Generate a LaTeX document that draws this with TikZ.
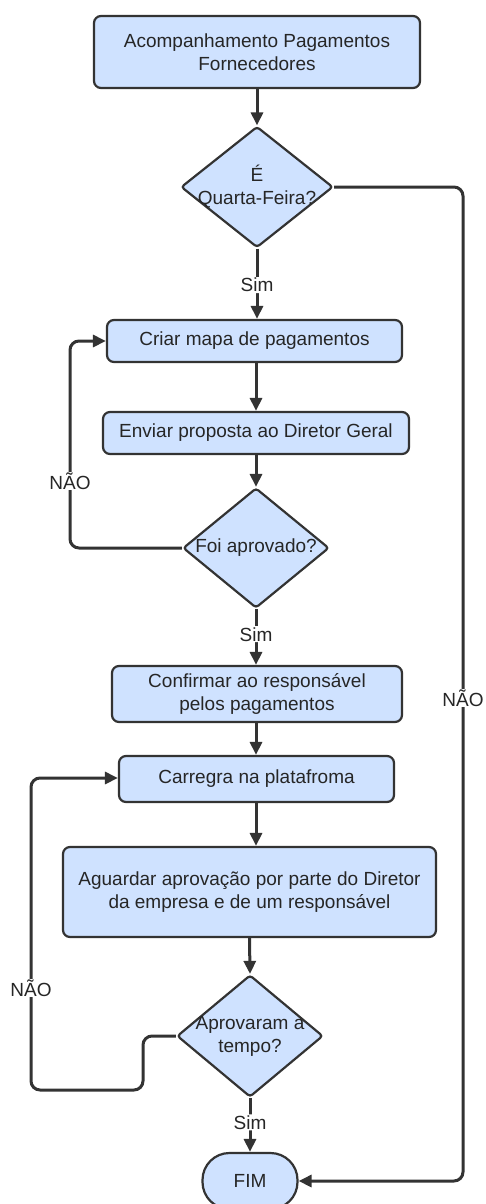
\documentclass[tikz,border=0pt]{standalone}
\usepackage{fontspec}
\setmainfont{Liberation Sans}
\usetikzlibrary{arrows.meta,shapes.geometric}

\definecolor{boxfill}{RGB}{207,226,255}
\definecolor{ink}{RGB}{51,51,51}

\tikzset{
  every node/.style={font=\fontsize{19}{23}\selectfont, text=black!85},
  stepbox/.style={draw=ink, fill=boxfill, line width=2.2pt, rounded corners=7pt,
    inner sep=0pt, align=center},
  decision/.style={draw=ink, fill=boxfill, line width=2.2pt, diamond,
    inner sep=0pt, rounded corners=3pt},
  terminal/.style={draw=ink, fill=boxfill, line width=2.2pt, rounded corners=27pt,
    inner sep=0pt, align=center},
  flow/.style={draw=ink, line width=3pt, rounded corners=9pt,
    -{Triangle[length=13pt,width=12pt]}},
  tag/.style={fill=white, inner sep=1pt, align=center},
}

\begin{document}
\begin{tikzpicture}[x=1pt, y=-1pt]
  \useasboundingbox (0,0) rectangle (485,1204);
  \clip (0,0) rectangle (485,1204);

  % process steps
  \node[stepbox, minimum width=326pt, minimum height=72pt] (start) at (257,52)
    {Acompanhamento Pagamentos\\Fornecedores};
  \node[stepbox, minimum width=295pt, minimum height=42pt] (criar) at (254.5,341)
    {Criar mapa de pagamentos};
  \node[stepbox, minimum width=306pt, minimum height=42pt] (enviar) at (256,433)
    {Enviar proposta ao Diretor Geral};
  \node[stepbox, minimum width=290pt, minimum height=56pt] (confirmar) at (257,694)
    {Confirmar ao responsável\\pelos pagamentos};
  \node[stepbox, minimum width=275pt, minimum height=46pt] (carregra) at (256.5,779)
    {Carregra na platafroma};
  \node[stepbox, minimum width=373pt, minimum height=90pt] (aguardar) at (249.5,892)
    {Aguardar aprovação por parte do Diretor\\da empresa e de um responsável};
  \node[terminal, minimum width=95pt, minimum height=56pt] (fim) at (250,1181) {FIM};

  % decisions
  \node[decision, minimum width=152pt, minimum height=121pt,
    label={[align=center]center:É\\Quarta-Feira?}] (q1) at (257,187) {};
  \node[decision, minimum width=146pt, minimum height=120pt,
    label={[align=center]center:Foi aprovado?}] (q2) at (256,548) {};
  \node[decision, minimum width=146pt, minimum height=122pt,
    label={[align=center]center:Aprovaram a\\tempo?}] (q3) at (250,1036) {};

  % bend points of the return paths
  \coordinate (r1) at (463,187);
  \coordinate (r2) at (463,1181);
  \coordinate (a1) at (70,548);
  \coordinate (a2) at (70,341);
  \coordinate (b1) at (143,1036);
  \coordinate (b2) at (143,1090);
  \coordinate (b3) at (31,1090);
  \coordinate (b4) at (31,778);

  % main flow
  \draw[flow] (start.south) -- (q1.north);
  \draw[flow] (q1.south) -- (q1.south |- criar.north)
    node[tag, pos=0.52] {Sim};
  \draw[flow] (criar.south -| 256,0) -- (enviar.north);
  \draw[flow] (enviar.south) -- (q2.north);
  \draw[flow] (q2.south) -- (q2.south |- confirmar.north)
    node[tag, pos=0.45] {Sim};
  \draw[flow] (confirmar.south -| 256,0) -- (carregra.north -| 256,0);
  \draw[flow] (carregra.south -| 256,0) -- (aguardar.north -| 256,0);
  \draw[flow] (aguardar.south) -- (q3.north);
  \draw[flow] (q3.south) -- (fim.north)
    node[tag, pos=0.45] {Sim};

  % return paths
  \draw[flow] (q1.east) -- (r1) -- (r2) -- (fim.east);
  \node[tag] (n1) at (463,698) {NÃO};
  \draw[flow] (q2.west) -- (a1) -- (a2) -- (criar.west);
  \node[tag] (n2) at (70,481) {NÃO};
  \draw[flow] (q3.west) -- (b1) -- (b2) -- (b3) -- (b4) -- (carregra.west |- b4);
  \node[tag] (n3) at (31,988) {NÃO};
\end{tikzpicture}
\end{document}
